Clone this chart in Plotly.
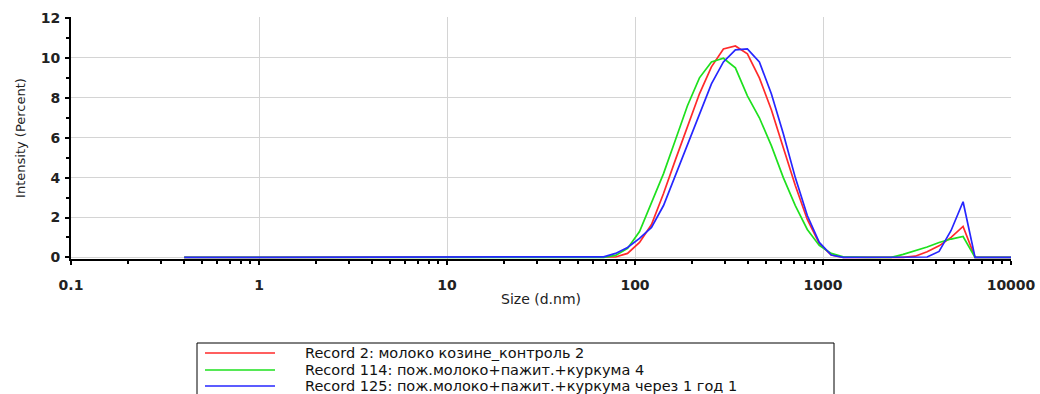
import plotly.graph_objects as go

# Size classes of the DLS size distribution (d.nm)
sizes_nm = [
    0.4, 0.4632, 0.5365, 0.6213, 0.7195, 0.8332, 0.9649, 1.117, 1.294, 1.499,
    1.736, 2.010, 2.328, 2.696, 3.122, 3.615, 4.187, 4.849, 5.615, 6.503,
    7.531, 8.721, 10.10, 11.70, 13.54, 15.69, 18.17, 21.04, 24.36, 28.21,
    32.67, 37.84, 43.82, 50.75, 58.77, 68.06, 78.82, 91.28, 105.7, 122.4,
    141.8, 164.2, 190.1, 220.2, 255.0, 295.3, 342.0, 396.1, 458.7, 531.2,
    615.1, 712.4, 825.0, 955.4, 1106, 1281, 1484, 1718, 1990, 2305,
    2669, 3091, 3580, 4145, 4801, 5560, 6439, 7456, 8635, 10000,
]

# Intensity (%) per size class for each record
record_2 = [
    0, 0, 0, 0, 0, 0, 0, 0, 0, 0,
    0, 0, 0, 0, 0, 0, 0, 0, 0, 0,
    0, 0, 0, 0, 0, 0, 0, 0, 0, 0,
    0, 0, 0, 0, 0, 0, 0.02, 0.2, 0.75, 1.65,
    3.2, 4.9, 6.6, 8.2, 9.55, 10.45, 10.6, 10.2, 9.0, 7.4,
    5.5, 3.6, 1.9, 0.7, 0.12, 0, 0, 0, 0, 0,
    0, 0.06, 0.28, 0.58, 1.0, 1.55, 0, 0, 0, 0,
]
record_114 = [
    0, 0, 0, 0, 0, 0, 0, 0, 0, 0,
    0, 0, 0, 0, 0, 0, 0, 0, 0, 0,
    0, 0, 0, 0, 0, 0, 0, 0, 0, 0,
    0, 0, 0, 0, 0, 0, 0.1, 0.45, 1.3, 2.75,
    4.2, 5.9, 7.6, 9.0, 9.8, 9.98, 9.5, 8.1, 7.0, 5.6,
    4.0, 2.6, 1.4, 0.6, 0.2, 0.03, 0, 0, 0, 0,
    0.15, 0.33, 0.52, 0.75, 0.92, 1.05, 0, 0, 0, 0,
]
record_125 = [
    0, 0, 0, 0, 0, 0, 0, 0, 0, 0,
    0, 0, 0, 0, 0, 0, 0, 0, 0, 0,
    0, 0, 0, 0, 0, 0, 0, 0, 0, 0,
    0, 0, 0, 0, 0, 0.03, 0.2, 0.5, 0.95, 1.5,
    2.6, 4.1, 5.6, 7.2, 8.7, 9.8, 10.4, 10.45, 9.8, 8.2,
    6.2, 4.0, 2.1, 0.75, 0.12, 0, 0, 0, 0, 0,
    0, 0, 0.02, 0.3, 1.35, 2.79, 0, 0, 0, 0,
]

series_names = [
    "Record 2: молоко козине_контроль 2",
    "Record 114: пож.молоко+пажит.+куркума 4",
    "Record 125: пож.молоко+пажит.+куркума через 1 год 1",
]
series_values = [record_2, record_114, record_125]
series_colors = ["#ff2a2a", "#1ee01e", "#2626ff"]

x_tick_vals = [0.1, 1, 10, 100, 1000, 10000]
x_tick_text = ["0.1", "1", "10", "100", "1000", "10000"]
x_minor_vals = [m * 10.0 ** e for e in range(-1, 4) for m in range(2, 10)]

W, H = 1040, 394
M_L, M_R, M_T, M_B = 71, 29, 17, 135
X_RANGE = [-1, 4]
Y_RANGE = [-0.08, 12.05]


def px_to_paper_x(px):
    return (px - M_L) / (W - M_L - M_R)


def px_to_paper_y(py):
    return (H - M_B - py) / (H - M_T - M_B)


fig = go.Figure()
for name, vals, col in zip(series_names, series_values, series_colors):
    fig.add_trace(go.Scatter(
        x=sizes_nm, y=vals, name=name, mode="lines",
        line=dict(color=col, width=1.7), showlegend=False,
    ))

# Boxed key below the plot, sitting partly past the lower page edge
shapes = [dict(
    type="rect", xref="paper", yref="paper",
    x0=px_to_paper_x(197), x1=px_to_paper_x(834),
    y0=px_to_paper_y(343), y1=px_to_paper_y(402),
    line=dict(color="black", width=1), fillcolor="white", layer="above",
)]
annotations = []
key_rows = [353, 370, 386]
for name, col, row in zip(series_names, series_colors, key_rows):
    shapes.append(dict(
        type="line", xref="paper", yref="paper",
        x0=px_to_paper_x(205), x1=px_to_paper_x(275),
        y0=px_to_paper_y(row), y1=px_to_paper_y(row),
        line=dict(color=col, width=1.7), layer="above",
    ))
    annotations.append(dict(
        text=name, xref="paper", yref="paper",
        x=px_to_paper_x(303), y=px_to_paper_y(row),
        xanchor="left", yanchor="middle", showarrow=False,
        font=dict(family="DejaVu Sans", size=14.5, color="#111111"),
    ))

grid = "#d4d4d4"
tick_font = dict(family="DejaVu Sans", size=14, color="#222222", weight="bold")
cross_ticks = dict(ticks="inside", ticklen=4, tickwidth=1.5, tickcolor="black")
cross_minor = dict(ticks="inside", ticklen=3, tickwidth=1.5, tickcolor="black",
                   showgrid=False)

fig.update_layout(
    width=W, height=H,
    margin=dict(l=M_L, r=M_R, t=M_T, b=M_B, autoexpand=False),
    paper_bgcolor="white", plot_bgcolor="white",
    showlegend=False,
    shapes=shapes, annotations=annotations,
    xaxis=dict(
        type="log", range=X_RANGE,
        tickmode="array", tickvals=x_tick_vals, ticktext=x_tick_text,
        showgrid=True, gridcolor=grid, gridwidth=1,
        showline=True, linecolor="black", linewidth=2,
        ticks="outside", ticklen=4, tickwidth=1.5, tickcolor="black",
        minor=dict(tickvals=x_minor_vals, ticks="outside", ticklen=3,
                   tickwidth=1.5, tickcolor="black", showgrid=False),
        tickfont=tick_font, ticklabelstandoff=8,
        zeroline=False, layer="below traces",
        title=dict(text="Size (d.nm)",
                   font=dict(family="DejaVu Sans", size=14, color="#222222"),
                   standoff=2),
    ),
    yaxis=dict(
        range=Y_RANGE, tick0=0, dtick=2,
        showgrid=True, gridcolor=grid, gridwidth=1,
        showline=True, linecolor="black", linewidth=2,
        ticks="outside", ticklen=4, tickwidth=1.5, tickcolor="black",
        minor=dict(dtick=1, tick0=0, ticks="outside", ticklen=3,
                   tickwidth=1.5, tickcolor="black", showgrid=False),
        tickfont=tick_font, ticklabelstandoff=2,
        zeroline=False, layer="below traces",
        title=dict(text="Intensity (Percent)",
                   font=dict(family="DejaVu Sans", size=13, color="#222222"),
                   standoff=12),
    ),
    # twin axes that add the inner half of each tick so the ticks cross the axis lines
    xaxis2=dict(
        type="log", range=X_RANGE, overlaying="x", anchor="y2",
        tickmode="array", tickvals=x_tick_vals, showticklabels=False,
        showgrid=False, showline=False, zeroline=False,
        minor=dict(tickvals=x_minor_vals, **cross_minor), **cross_ticks,
    ),
    yaxis2=dict(
        range=Y_RANGE, overlaying="y", anchor="x2", tick0=0, dtick=2,
        showticklabels=False, showgrid=False, showline=False, zeroline=False,
        minor=dict(dtick=1, tick0=0, **cross_minor), **cross_ticks,
    ),
)

fig.write_html("out.html")
